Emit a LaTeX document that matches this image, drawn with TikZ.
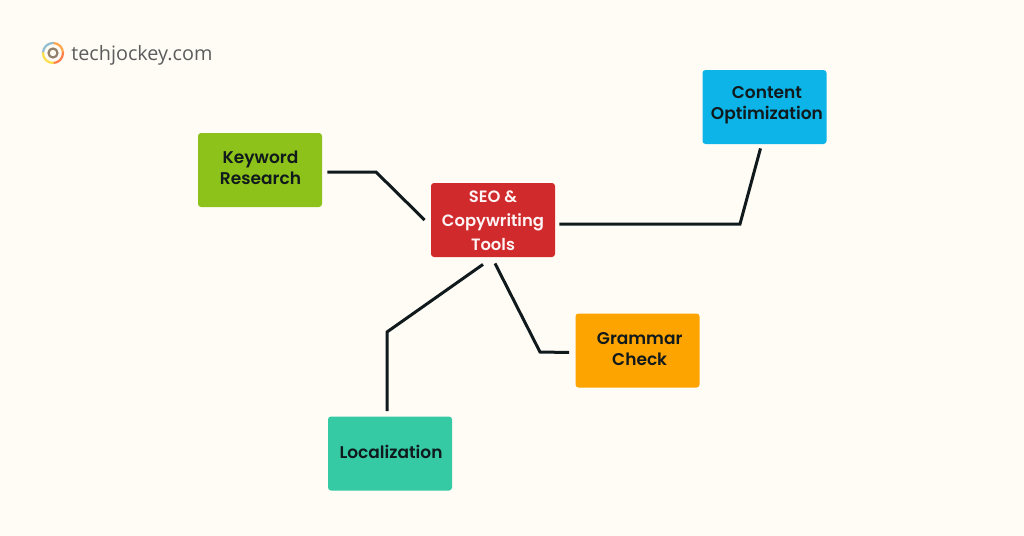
\documentclass[tikz,border=0pt]{standalone}
\usepackage{fontspec}
\setmainfont{Poppins}[BoldFont={Poppins SemiBold}]
\newfontfamily\logofont{Open Sans}
\definecolor{bgc}{HTML}{FFFCF6}
\definecolor{kwc}{HTML}{8DC21A}
\definecolor{hubc}{HTML}{D02A2C}
\definecolor{coc}{HTML}{0DB4E8}
\definecolor{grc}{HTML}{FDA400}
\definecolor{loc}{HTML}{35CAA4}
\definecolor{inkc}{HTML}{10191C}
\definecolor{logoc}{HTML}{5C5C5C}
% text lines of a box, moved right by half of #1 and up by #2 from the box centre
\newsavebox{\linesbox}
\newcommand{\boxtext}[3]{\sbox{\linesbox}{\hspace*{#1}\begin{tabular}{@{}c@{}}#3\end{tabular}}%
  \raisebox{\dimexpr #2-(\ht\linesbox-\dp\linesbox)/2\relax}[0pt][0pt]{\usebox{\linesbox}}}
\tikzset{
  x=0.5pt,y=-0.5pt,
  box/.style={draw=none,fill=#1,rounded corners=1.5pt,minimum width=62pt,minimum height=37pt,inner sep=0pt,
     align=center,font=\fontsize{8.5pt}{10.4pt}\selectfont\bfseries,text=inkc},
  link/.style={draw=inkc,line width=1.5pt,line join=miter},
  ring/.style={line width=1.1pt,line cap=round}
}
\begin{document}
\begin{tikzpicture}
\fill[bgc] (0,0) rectangle (1024,536);
\useasboundingbox (0,0) rectangle (1024,536);
\node[box=kwc] (kw) at (260,170) {\boxtext{0.5pt}{0pt}{Keyword\\Research}};
\node[box=hubc,text=white!95!hubc,font=\fontsize{8.2pt}{12pt}\selectfont\bfseries] (hub) at (493,220) {\boxtext{0pt}{-1pt}{SEO \&\\Copywriting\\Tools}};
\node[box=coc] (co) at (764.5,107) {\boxtext{2.4pt}{1pt}{Content\\Optimization}};
\node[box=grc] (gr) at (637.5,350.5) {\boxtext{2.2pt}{-0.2pt}{Grammar\\Check}};
\node[box=loc] (lo) at (390,453.5) {\boxtext{1pt}{-0.5pt}{Localization}};
\draw[link] ([shift={(5,2)}]kw.east) -- (376,172) -- ([shift={(-6,0)}]hub.west);
\draw[link] ([shift={(4,4)}]hub.east) -- (740,224) -- ([shift={(-4,4)}]co.south);
\draw[link] ([shift={(2,6)}]hub.south) -- (540,352) -- ([shift={(-6,2)}]gr.west);
\draw[link] ([shift={(-10,7)}]hub.south) -- (387,332) -- ([shift={(-3,-5)}]lo.north);
% logo
\draw[ring,draw=orange!70!white] (53,43) arc[start angle=-90,delta angle=90,radius=10];
\draw[ring,draw=cyan!45!gray!70!white] (43,53) arc[start angle=180,delta angle=90,radius=10];
\draw[ring,draw=red!45!orange!70!white] (63,53) arc[start angle=0,delta angle=90,radius=10];
\draw[ring,draw=yellow!70!orange!70!white] (43,53) arc[start angle=180,delta angle=-90,radius=10];
\draw[ring,draw=gray!70!brown] (53,53) circle[radius=4.5];
\node[anchor=west,inner sep=0pt,font=\logofont\fontsize{9.9pt}{11pt}\selectfont,text=logoc] (logo) at (71,55.5) {techjockey.com};
\end{tikzpicture}
\end{document}
